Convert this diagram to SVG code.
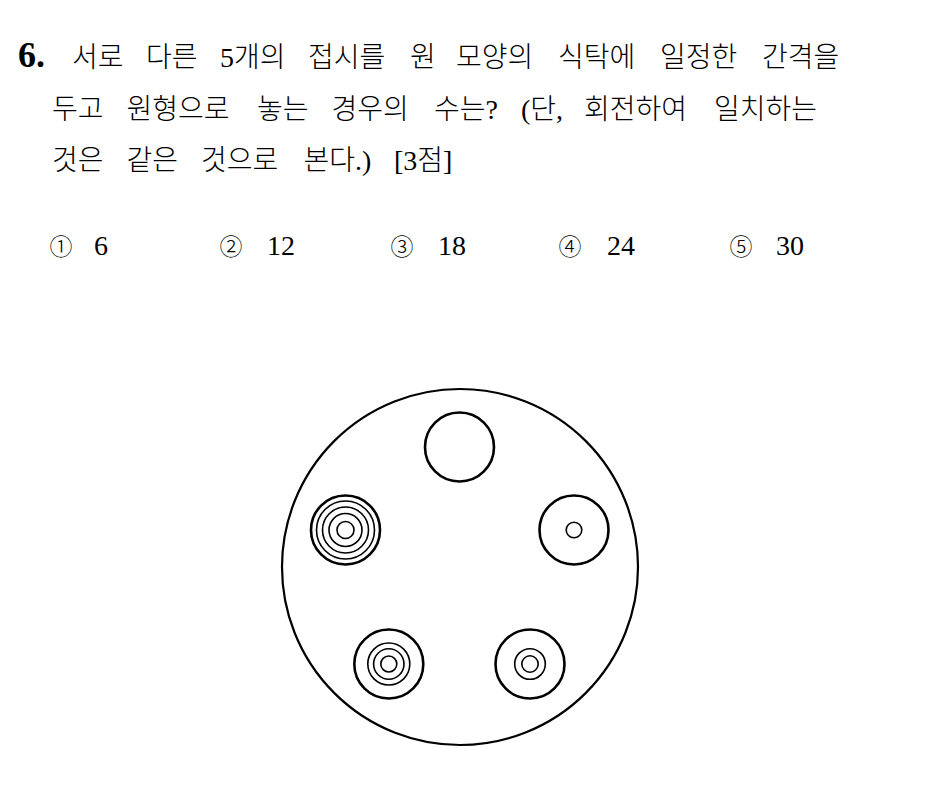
<svg xmlns="http://www.w3.org/2000/svg" width="938" height="795" viewBox="0 0 938 795">
<style>
.q{font-family:"Liberation Serif","Noto Sans CJK KR",serif;font-size:28px;font-weight:300;fill:#000}
.num{font-family:"Liberation Serif","Noto Sans CJK KR",serif;font-size:36px;font-weight:bold;fill:#000}
.c{font-family:"Noto Sans CJK KR",sans-serif;font-size:23px;font-weight:300;fill:#000}
.a{font-family:"Liberation Serif",serif;font-size:28px;fill:#000}
.table{fill:none;stroke:#000;stroke-width:2.2}
.plate{fill:#fff;stroke:#000;stroke-width:2.6}
.ring{fill:none;stroke:#000;stroke-width:1.6}
</style>
<rect width="938" height="795" fill="#fff"/>
<g id="question">
<text class="num" x="18" y="67">6.</text>
<text class="q" y="67"><tspan x="72">서로</tspan> <tspan x="146">다른</tspan> <tspan x="220">5개의</tspan> <tspan x="308">접시를</tspan> <tspan x="410">원</tspan> <tspan x="456">모양의</tspan> <tspan x="558">식탁에</tspan> <tspan x="660">일정한</tspan> <tspan x="762">간격을</tspan></text>
<text class="q" y="119"><tspan x="52">두고</tspan> <tspan x="126.5">원형으로</tspan> <tspan x="257">놓는</tspan> <tspan x="331.5">경우의</tspan> <tspan x="434">수는?</tspan> <tspan x="521">(단,</tspan> <tspan x="584">회전하여</tspan> <tspan x="714">일치하는</tspan></text>
<text class="q" y="170"><tspan x="52">것은</tspan> <tspan x="126.5">같은</tspan> <tspan x="201">것으로</tspan> <tspan x="303.5">본다.)</tspan> <tspan x="394">[3점]</tspan></text>
</g>
<g id="choices">
<text class="c" x="49.5" y="255">①</text><text class="a" x="94" y="255">6</text>
<text class="c" x="219.5" y="255">②</text><text class="a" x="267" y="255">12</text>
<text class="c" x="390.5" y="255">③</text><text class="a" x="438" y="255">18</text>
<text class="c" x="558.5" y="255">④</text><text class="a" x="607" y="255">24</text>
<text class="c" x="729.5" y="255">⑤</text><text class="a" x="776" y="255">30</text>
</g>
<g id="table"><circle class="table" cx="460" cy="567" r="178"/></g>
<g id="plate-top"><circle class="plate" cx="459.5" cy="447" r="34.5"/></g>
<g id="plate-right"><circle class="plate" cx="574" cy="530" r="34.5"/><circle class="ring" cx="574" cy="530" r="7.8"/></g>
<g id="plate-bottom-right"><circle class="plate" cx="530" cy="664" r="34.5"/><circle class="ring" cx="530" cy="664" r="15.3"/><circle class="ring" cx="530" cy="664" r="8.2"/></g>
<g id="plate-bottom-left"><circle class="plate" cx="388.8" cy="664" r="34.5"/><circle class="ring" cx="388.8" cy="664" r="21"/><circle class="ring" cx="388.8" cy="664" r="15.2"/><circle class="ring" cx="388.8" cy="664" r="8"/></g>
<g id="plate-left"><circle class="plate" cx="345.5" cy="530" r="34.5"/><circle class="ring" cx="345.5" cy="530" r="29"/><circle class="ring" cx="345.5" cy="530" r="23"/><circle class="ring" cx="345.5" cy="530" r="16.5"/><circle class="ring" cx="345.5" cy="530" r="8.5"/></g>
</svg>
